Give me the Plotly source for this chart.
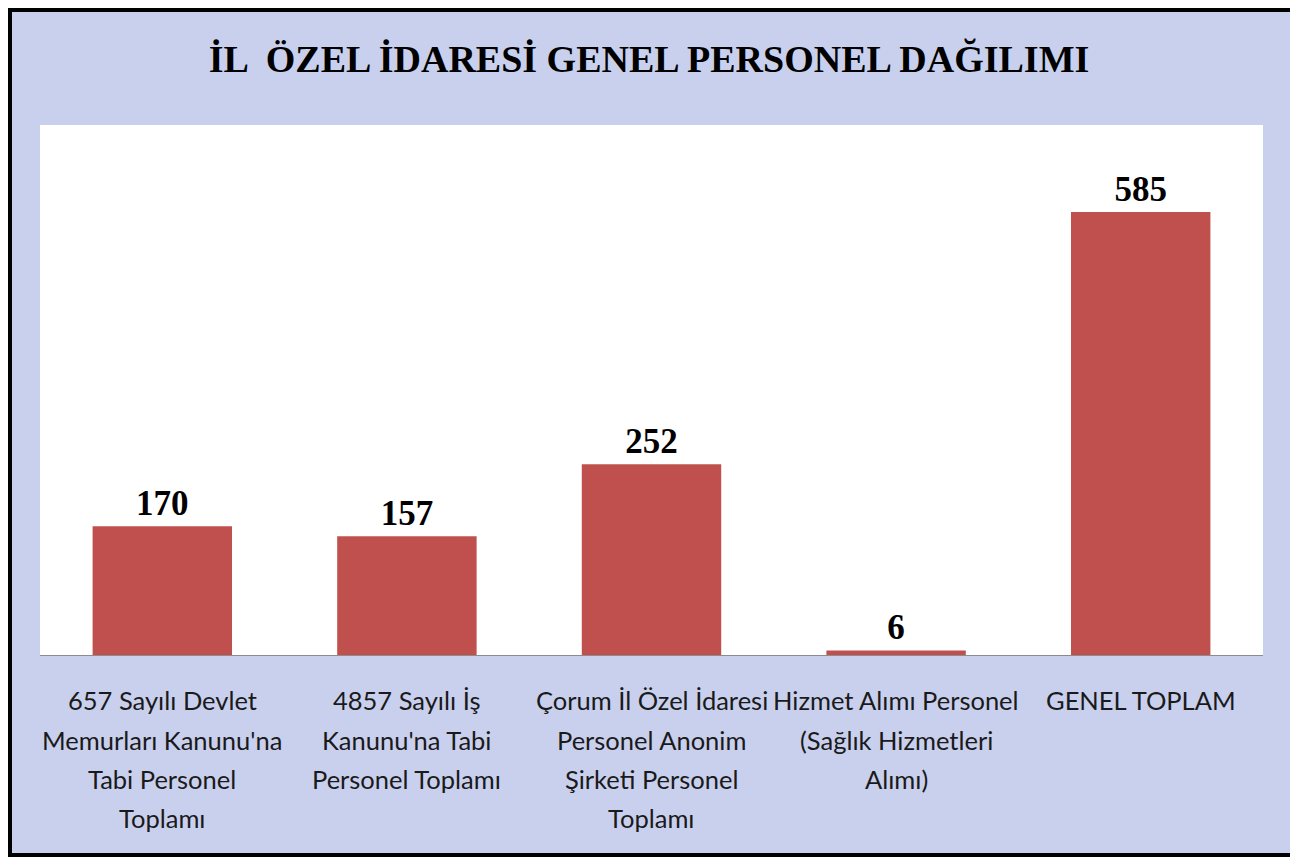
import plotly.graph_objects as go

categories = [
    "657 Sayılı Devlet<br>Memurları Kanunu'na<br>Tabi Personel<br>Toplamı",
    "4857 Sayılı İş<br>Kanunu'na Tabi<br>Personel Toplamı",
    "Çorum İl Özel İdaresi<br>Personel Anonim<br>Şirketi Personel<br>Toplamı",
    "Hizmet Alımı Personel<br>(Sağlık Hizmetleri<br>Alımı)",
    "GENEL TOPLAM",
]
values = [170, 157, 252, 6, 585]
title_text = "İL  ÖZEL İDARESİ GENEL PERSONEL DAĞILIMI"

# page is offset by the 8px body margin
W, H = 1290, 849
ml, mr, mt, mb = 32, 35, 117, 202
pw, ph = W - ml - mr, H - mt - mb

fig = go.Figure(
    go.Bar(
        x=categories,
        y=values,
        marker=dict(color="#C0504D", line=dict(width=0)),
        text=values,
        textposition="outside",
        textfont=dict(family="Liberation Serif", size=35, color="#000000", weight="bold"),
        cliponaxis=False,
    )
)

# category labels, one annotation per line for the wider line spacing
line_gap = 39.5 / ph
first_line = -45 / ph
annotations = []
for cat in categories:
    for i, line in enumerate(cat.split("<br>")):
        annotations.append(
            dict(
                x=cat,
                xref="x",
                y=first_line - i * line_gap,
                yref="paper",
                text=line,
                showarrow=False,
                xanchor="center",
                yanchor="middle",
                font=dict(family="Lato", size=25.5, color="#1A1A1A"),
            )
        )

fig.update_layout(
    width=W,
    height=H,
    margin=dict(l=ml, r=mr, t=mt, b=mb),
    paper_bgcolor="#C9D0EE",
    plot_bgcolor="#FFFFFF",
    bargap=0.43,
    showlegend=False,
    title=dict(
        text="<b>" + title_text + "</b>",
        font=dict(family="Liberation Serif", size=38, color="#000000"),
        x=641 / W,
        xanchor="center",
        y=1 - 51 / H,
        yanchor="middle",
    ),
    xaxis=dict(
        showline=True,
        linecolor="#8C8C8C",
        linewidth=1,
        ticks="",
        showgrid=False,
        showticklabels=False,
    ),
    yaxis=dict(
        range=[0, 700],
        visible=False,
        showgrid=False,
    ),
    annotations=annotations,
    shapes=[
        dict(
            type="rect",
            xref="paper",
            yref="paper",
            x0=-(ml - 2) / pw,
            x1=1 + (mr - 2) / pw,
            y0=-(mb - 2) / ph,
            y1=1 + (mt - 2) / ph,
            line=dict(color="#000000", width=4),
            fillcolor="rgba(0,0,0,0)",
            layer="below",
        )
    ],
)

fig.write_html("out.html")
